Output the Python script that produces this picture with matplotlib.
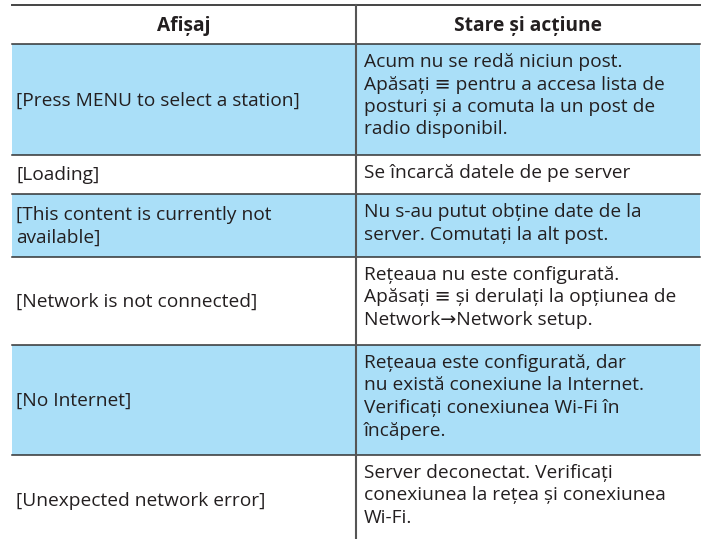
import matplotlib.pyplot as plt

plt.rcParams['font.family'] = ['Open Sans', 'DejaVu Sans']

headers = ["Afișaj", "Stare și acțiune"]
displays = [
    ["[Press MENU to select a station]"],
    ["[Loading]"],
    ["[This content is currently not", "available]"],
    ["[Network is not connected]"],
    ["[No Internet]"],
    ["[Unexpected network error]"],
]
actions = [
    ["Acum nu se redă niciun post.",
     "Apăsați ≡ pentru a accesa lista de",
     "posturi și a comuta la un post de",
     "radio disponibil."],
    ["Se încarcă datele de pe server"],
    ["Nu s-au putut obține date de la",
     "server. Comutați la alt post."],
    ["Rețeaua nu este configurată.",
     "Apăsați ≡ și derulați la opțiunea de",
     "Network→Network setup."],
    ["Rețeaua este configurată, dar",
     "nu există conexiune la Internet.",
     "Verificați conexiunea Wi-Fi în",
     "încăpere."],
    ["Server deconectat. Verificați",
     "conexiunea la rețea și conexiunea",
     "Wi-Fi."],
]
shaded = [True, False, True, False, True, False]

# layout in pixels
W, H = 707, 539
x_left, x_mid, x_right = 12, 356, 700
y_top, header_h = 5, 39
row_h = [111, 39, 63, 88, 110, 90]
line_h = 22.5
fill = "#aadff8"
ink = "#231f20"
fs = 13.8

fig = plt.figure(figsize=(W / 100, H / 100), dpi=100)
ax = fig.add_axes([0, 0, 1, 1])
ax.set_xlim(0, W)
ax.set_ylim(H, 0)
ax.axis("off")

# header
y_hb = y_top + header_h
ax.text((x_left + x_mid) / 2, (y_top + y_hb) / 2 + 6, headers[0], ha="center",
        va="baseline", fontsize=fs, fontweight="bold", color=ink)
ax.text((x_mid + x_right) / 2, (y_top + y_hb) / 2 + 6, headers[1], ha="center",
        va="baseline", fontsize=fs, fontweight="bold", color=ink)
ax.plot([x_left, x_right], [y_top, y_top], color="#444444", lw=1.4)
ax.plot([x_left, x_right], [y_hb, y_hb], color="#333333", lw=1.1)

y = y_hb
for disp, act, sh, h in zip(displays, actions, shaded, row_h):
    if sh:
        ax.fill_between([x_left, x_right], y, y + h, color=fill, lw=0)
    # left column: vertically centred
    mid = y + h / 2
    n = len(disp)
    for i, line in enumerate(disp):
        yy = mid + (i - (n - 1) / 2) * line_h + 6
        ax.text(x_left + 4, yy, line, ha="left", va="baseline", fontsize=fs, color=ink)
    # right column: top aligned
    for i, line in enumerate(act):
        yy = y + 17 + i * line_h + 6
        ax.text(x_mid + 8, yy, line, ha="left", va="baseline", fontsize=fs, color=ink)
    y += h
    if y < H - 5:
        ax.plot([x_left, x_right], [y, y], color="#333333", lw=1.1)

ax.plot([x_mid, x_mid], [y_top, H], color="#555555", lw=1.5)

fig.savefig("out.png", dpi=100)
